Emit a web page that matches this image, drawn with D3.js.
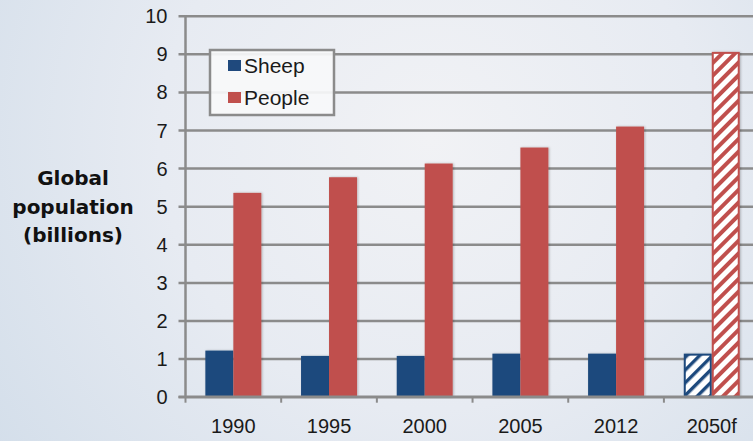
<!DOCTYPE html>
<html>
<head>
<meta charset="utf-8">
<script src="https://cdn.jsdelivr.net/npm/d3@7"></script>
<style>
html,body{margin:0;padding:0;overflow:hidden;}
svg{display:block;}
</style>
</head>
<body>
<svg id="chart" width="753" height="441"></svg>
<script>
const categories = ["1990", "1995", "2000", "2005", "2012", "2050f"];
const seriesNames = ["Sheep", "People"];
const sheepValues = [1.21, 1.07, 1.07, 1.13, 1.13, 1.13];
const peopleValues = [5.35, 5.76, 6.12, 6.54, 7.09, 9.05];
const forecastCategories = ["2050f"];
const yTicks = [0, 1, 2, 3, 4, 5, 6, 7, 8, 9, 10];
const yLabelLines = ["Global", "population", "(billions)"];

const colors = {Sheep: "#1f497d", People: "#c0504d"};
const W = 753, H = 441;
const svg = d3.select("#chart");
const defs = svg.append("defs");

// background
const bg = defs.append("radialGradient").attr("id", "bg")
  .attr("gradientUnits", "userSpaceOnUse")
  .attr("cx", 430).attr("cy", 140).attr("r", 540);
bg.append("stop").attr("offset", "0").attr("stop-color", "#f1f2f5");
bg.append("stop").attr("offset", "0.5").attr("stop-color", "#e7ebf2");
bg.append("stop").attr("offset", "1").attr("stop-color", "#d3deea");
svg.append("rect").attr("width", W).attr("height", H).attr("fill", "url(#bg)");

// hatch patterns
seriesNames.forEach(s => {
  const p = defs.append("pattern").attr("id", "hatch-" + s)
    .attr("patternUnits", "userSpaceOnUse")
    .attr("width", 9).attr("height", 9)
    .attr("patternTransform", "rotate(45)");
  p.append("rect").attr("width", 9).attr("height", 9).attr("fill", "#ffffff");
  p.append("rect").attr("width", s === "Sheep" ? 3.4 : 4.0).attr("height", 9).attr("fill", colors[s]);
});

// shadow filter
const f = defs.append("filter").attr("id", "shadow").attr("x", "-20%").attr("y", "-5%").attr("width", "140%").attr("height", "110%");
f.append("feDropShadow").attr("dx", 1).attr("dy", 0).attr("stdDeviation", 1.2).attr("flood-color", "#000").attr("flood-opacity", 0.25);

const left = 185.5, right = 759.6, y0 = 396.7, y10 = 15.7;
const x0 = d3.scaleBand().domain(categories).range([left, right]).paddingInner(0.415).paddingOuter(0.2075);
const x1 = d3.scaleBand().domain(seriesNames).range([0, x0.bandwidth()]);
const y = d3.scaleLinear().domain([0, 10]).range([y0, y10]);

const gridColor = "#8b8b8b";
const font = "'Liberation Sans', Arial, sans-serif";

// y axis with gridlines
const yAxis = d3.axisLeft(y).tickValues(yTicks).tickSize(-(W - left)).tickPadding(18).tickFormat(d3.format("d"));
const gy = svg.append("g").attr("transform", `translate(${left},0)`).call(yAxis);
gy.select(".domain").remove();
gy.selectAll(".tick line").attr("x1", -7).attr("stroke", gridColor).attr("stroke-width", 2.5);
gy.selectAll(".tick text").attr("font-family", font).attr("font-size", 20).attr("fill", "#1a1a1a").attr("dy", "0.35em");

// y axis line
svg.append("line").attr("x1", left).attr("x2", left).attr("y1", y(10)).attr("y2", y(0) + 1)
  .attr("stroke", gridColor).attr("stroke-width", 2.5);

// bars
const rows = categories.map((c, i) => ({cat: c, Sheep: sheepValues[i], People: peopleValues[i]}));
const groups = svg.append("g").selectAll("g").data(rows).join("g")
  .attr("transform", d => `translate(${x0(d.cat)},0)`);
groups.selectAll("rect").data(d => seriesNames.map(s => ({cat: d.cat, key: s, value: d[s]}))).join("rect")
  .attr("x", d => x1(d.key) + (forecastCategories.includes(d.cat) ? 1 : 0))
  .attr("width", d => x1.bandwidth() - (forecastCategories.includes(d.cat) ? 2 : 0))
  .attr("y", d => y(d.value) + (forecastCategories.includes(d.cat) ? 1 : 0))
  .attr("height", d => y(0) - y(d.value) - (forecastCategories.includes(d.cat) ? 1 : 0))
  .attr("fill", d => forecastCategories.includes(d.cat) ? `url(#hatch-${d.key})` : colors[d.key])
  .attr("stroke", d => forecastCategories.includes(d.cat) ? colors[d.key] : "none")
  .attr("stroke-width", 2)
  .attr("filter", "url(#shadow)");

// x axis
const xAxis = d3.axisBottom(x0).tickSize(0).tickPadding(22);
const gx = svg.append("g").attr("transform", `translate(0,${y(0)})`).call(xAxis);
gx.select(".domain").remove();
gx.selectAll(".tick text").attr("font-family", font).attr("font-size", 20).attr("fill", "#1a1a1a");
svg.append("line").attr("x1", left - 7).attr("x2", W).attr("y1", y(0)).attr("y2", y(0))
  .attr("stroke", gridColor).attr("stroke-width", 2.5);
// category boundary ticks
const step = x0.step();
svg.append("g").selectAll("line").data(categories).join("line")
  .attr("x1", d => x0(d) - step * 0.2075).attr("x2", d => x0(d) - step * 0.2075)
  .attr("y1", y(0)).attr("y2", y(0) + 6)
  .attr("stroke", gridColor).attr("stroke-width", 2);

// y label
const yl = svg.append("text").attr("text-anchor", "middle")
  .attr("font-family", "'DejaVu Sans', sans-serif").attr("font-weight", "bold")
  .attr("font-size", 20).attr("fill", "#111");
yl.selectAll("tspan").data(yLabelLines).join("tspan")
  .attr("x", 73).attr("y", (d, i) => 185 + i * 28.5).text(d => d);

// legend
const lg = svg.append("g").attr("transform", "translate(210,50)");
lg.append("rect").attr("width", 124).attr("height", 65)
  .attr("fill", "#f7f8fa").attr("fill-opacity", 0.92)
  .attr("stroke", "#8b8b8b").attr("stroke-width", 2.5);
seriesNames.forEach((s, i) => {
  lg.append("rect").attr("x", 18).attr("y", 10 + i * 32).attr("width", 13).attr("height", 11).attr("fill", colors[s]);
  lg.append("text").attr("x", 34).attr("y", 23 + i * 32).text(s)
    .attr("font-family", font).attr("font-size", 21).attr("fill", "#1a1a1a");
});
</script>
</body>
</html>
